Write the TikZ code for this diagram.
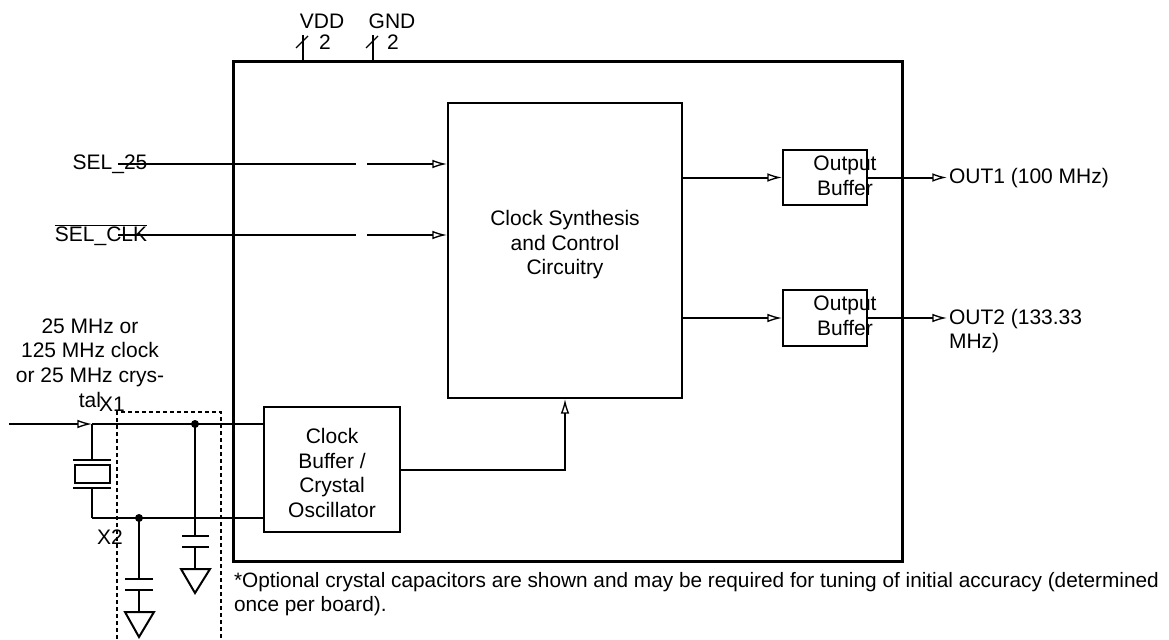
\documentclass[tikz,border=0pt]{standalone}
\usepackage{fontspec}
\setmainfont{Liberation Sans}
\usetikzlibrary{arrows.meta}

\tikzset{every picture/.style={line width=1.5pt}}

\begin{document}
\begin{tikzpicture}[x=0.75pt,y=0.75pt,yscale=-1,xscale=1,
    font=\fontsize{15.75}{18.4}\selectfont,
    blk/.style={draw,line width=1.5pt,inner sep=0pt},
    sig/.style={-{Latex[open,length=11pt,width=6.5pt,line width=1pt]}},
    txt/.style={inner sep=0.75pt,align=center},
    dot/.style={circle,fill,inner sep=0pt,minimum size=6pt}]
		\useasboundingbox (0,0) rectangle (1169,639);

		%Shape: Rectangle [chip]
		\node [blk,line width=2.25pt,minimum width=501.75pt,minimum height=375pt] (chip) at (567.5,311) {};
		%Shape: Rectangle [synth]
		\node [blk,minimum width=175.5pt,minimum height=221.25pt] (synth) at (565,250.5) {};
		%Shape: Rectangle [output buffers]
		\node [blk,minimum width=63pt,minimum height=41.25pt] (buf1) at (825,177.5) {};
		\node [blk,minimum width=63pt,minimum height=42pt] (buf2) at (825,318) {};
		%Shape: Rectangle [clock buffer]
		\node [blk,minimum width=102pt,minimum height=93.75pt] (clkbuf) at (332,469.5) {};

		% Text Node
		\node [txt] (synthtxt) at (565,245) {Clock Synthesis\\and Control\\Circuitry};
		\node [txt] (buf1txt) at (845,176) {Output\\Buffer};
		\node [txt] (buf2txt) at (845,316) {Output\\Buffer};
		\node [txt] (clkbuftxt) at (332,473) {Clock\\Buffer /\\Crystal\\Oscillator};

		%Power pins
		\node [txt] (vddtxt) at (322,21) {VDD};
		\node [txt] (gndtxt) at (392,21) {GND};
		\node [txt] (vddn) at (325,42) {2};
		\node [txt] (gndn) at (393,42) {2};
		\coordinate (vdd) at (303,35);
		\coordinate (gnd) at (373,35);
		\draw (vdd) -- (vdd |- chip.north);
		\draw (gnd) -- (gnd |- chip.north);
		\draw [line width=1pt] (296,48) -- (308,36);
		\draw [line width=1pt] (366,48) -- (378,36);

		%Select inputs
		\node [txt] (seltxt) at (110,164) {SEL\_25};
		\node [txt] (clktxt) at (101,235) {$\overline{\mbox{SEL\_CLK}}$};
		\coordinate (sela) at (118,164);
		\coordinate (selb) at (356,164);
		\coordinate (selc) at (367,164);
		\coordinate (clka) at (118,235);
		\coordinate (clkb) at (356,235);
		\coordinate (clkc) at (367,235);
		\draw (sela) -- (selb);
		\draw [sig] (selc) -- (selc -| synth.west);
		\draw (clka) -- (clkb);
		\draw [sig] (clkc) -- (clkc -| synth.west);

		%Outputs
		\draw [sig] (synth.east |- buf1.west) -- (buf1.west);
		\draw [sig] (synth.east |- buf2.west) -- (buf2.west);
		\node [txt,anchor=west] (out1) at (947,178) {OUT1 (100 MHz)};
		\node [txt,anchor=west,align=left] (out2) at (947,331) {OUT2 (133.33\\MHz)};
		\draw [sig] (buf1.east) -- (out1.west |- buf1.east);
		\draw [sig] (buf2.east) -- (out2.west |- buf2.east);

		%Clock buffer to synthesis
		\draw [sig] (clkbuf.east) -| (synth.south);

		%Crystal input
		\node [txt] (intxt) at (90,363) {25 MHz or\\125 MHz clock\\or 25 MHz crys-\\tal};
		\node [txt] (x1) at (112,404) {X1};
		\node [txt] (x2) at (110,537) {X2};
		\coordinate (xin) at (9,424);
		\coordinate (j1) at (92,424);
		\coordinate (j2) at (92,518);
		\draw [sig] (xin) -- (j1);
		\draw (j1) -- (j1 -| clkbuf.west);
		\draw (j2) -- (j2 -| clkbuf.west);
		%Crystal
		\draw (j1) -- (92,460);
		\draw (73,460) -- (111,460);
		\draw (75,465) rectangle (110,483);
		\draw (73,488) -- (111,488);
		\draw (92,488) -- (j2);

		%Capacitors
		\node [dot] (d1) at (195,424) {};
		\node [dot] (d2) at (139,518) {};
		\draw (d1.center) -- (195,536);
		\draw (182,536) -- (209,536);
		\draw (182,547) -- (209,547);
		\draw (195,547) -- (195,569);
		\draw (181,569) -- (210,569) -- (195,593) -- cycle;
		\draw (d2.center) -- (139,579);
		\draw (125,579) -- (153,579);
		\draw (125,590) -- (153,590);
		\draw (139,590) -- (139,612);
		\draw (125,612) -- (154,612) -- (139,637) -- cycle;

		%Dashed box
		\draw [dash pattern=on 3pt off 2.25pt] (117,639) |- (221,412) -- (221,639);

		% Text Node
		\node [txt,anchor=west,align=left,font=\fontsize{15.6}{18}\selectfont] (note) at (232,594) {*Optional crystal capacitors are shown and may be required for tuning of initial accuracy (determined\\once per board).};

	\end{tikzpicture}
\end{document}
